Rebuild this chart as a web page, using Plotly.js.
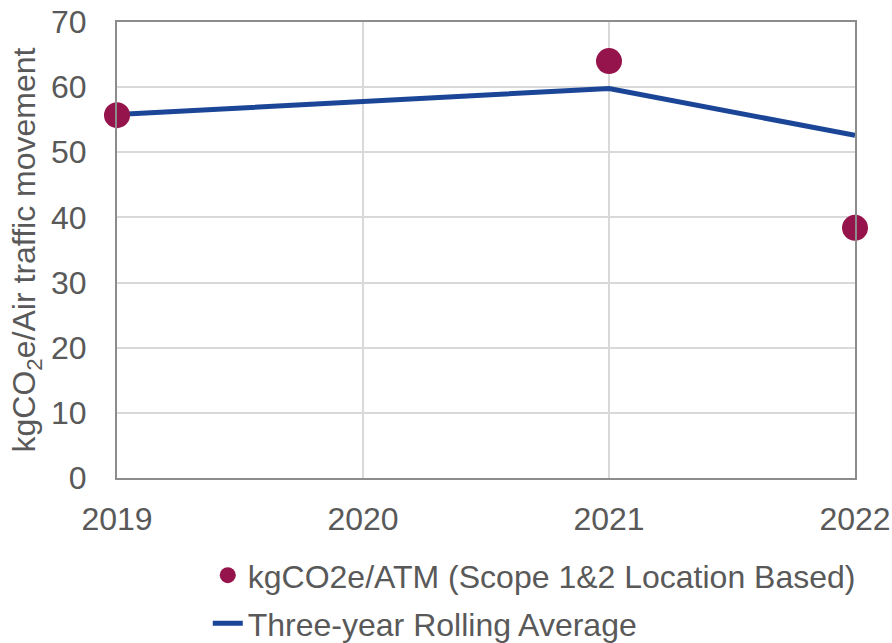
<!DOCTYPE html>
<html>
<head>
<meta charset="utf-8">
<script src="https://cdn.plot.ly/plotly-3.0.1.min.js"></script>
<style>
  html, body { margin: 0; padding: 0; background: #fff; }
  #chart { width: 892px; height: 643px; }
</style>
</head>
<body>
<div id="chart"></div>
<script>
// values
const years = [2019, 2020, 2021, 2022];
const atmYears = [2019, 2021, 2022];
const atmValues = [55.7, 64.0, 38.4];
const rollingAvg = [55.8, 57.8, 59.8, 52.6];
const yTicks = [0, 10, 20, 30, 40, 50, 60, 70];

const COLORS = {
    marker: '#95144b',
    line: '#1b4596',
    grid: '#d9d9d9',
    axis: '#8c8c8c',
    text: '#595959'
};

const FAMILY = 'Liberation Sans, Arial, sans-serif';
const font = (size) => ({ family: FAMILY, size: size, color: COLORS.text });

const lineTrace = {
    x: years,
    y: rollingAvg,
    mode: 'lines',
    line: { color: COLORS.line, width: 5 },
    name: 'Three-year Rolling Average',
    legend: 'legend2',
    cliponaxis: false
};

const atmTrace = {
    x: atmYears,
    y: atmValues,
    mode: 'markers',
    marker: { size: 26, color: COLORS.marker },
    name: 'kgCO2e/ATM (Scope 1&2 Location Based)',
    legend: 'legend',
    cliponaxis: false
};

const layout = {
    width: 892,
    height: 643,
    font: font(32),
    showlegend: true,
    margin: { l: 117, r: 37, t: 22, b: 165, autoexpand: false },
    xaxis: {
        range: [2019, 2022],
        tickvals: years,
        ticktext: years.map(String),
        showgrid: true,
        gridcolor: COLORS.grid,
        gridwidth: 2,
        showline: true,
        linecolor: COLORS.axis,
        linewidth: 2,
        mirror: true,
        zeroline: false,
        ticks: '',
        ticklabelstandoff: 12,
        tickfont: font(32)
    },
    yaxis: {
        range: [0, 70],
        tickvals: yTicks,
        showgrid: true,
        gridcolor: COLORS.grid,
        gridwidth: 2,
        showline: true,
        linecolor: COLORS.axis,
        linewidth: 2,
        mirror: true,
        zeroline: false,
        ticks: '',
        ticklabelstandoff: 22,
        tickfont: font(32),
        title: {
            text: 'kgCO<sub>2</sub>e/Air traffic movement',
            font: font(32),
            standoff: 6
        }
    },
    legend: {
        x: 0.123, xanchor: 'left',
        y: 0.148, yanchor: 'top', yref: 'container',
        font: font(32),
        bgcolor: 'rgba(0,0,0,0)'
    },
    legend2: {
        x: 0.123, xanchor: 'left',
        y: 0.073, yanchor: 'top', yref: 'container',
        font: font(32),
        bgcolor: 'rgba(0,0,0,0)'
    },
    plot_bgcolor: 'white',
    paper_bgcolor: 'white'
};

Plotly.newPlot('chart', [lineTrace, atmTrace], layout, { displayModeBar: false });
</script>
</body>
</html>
